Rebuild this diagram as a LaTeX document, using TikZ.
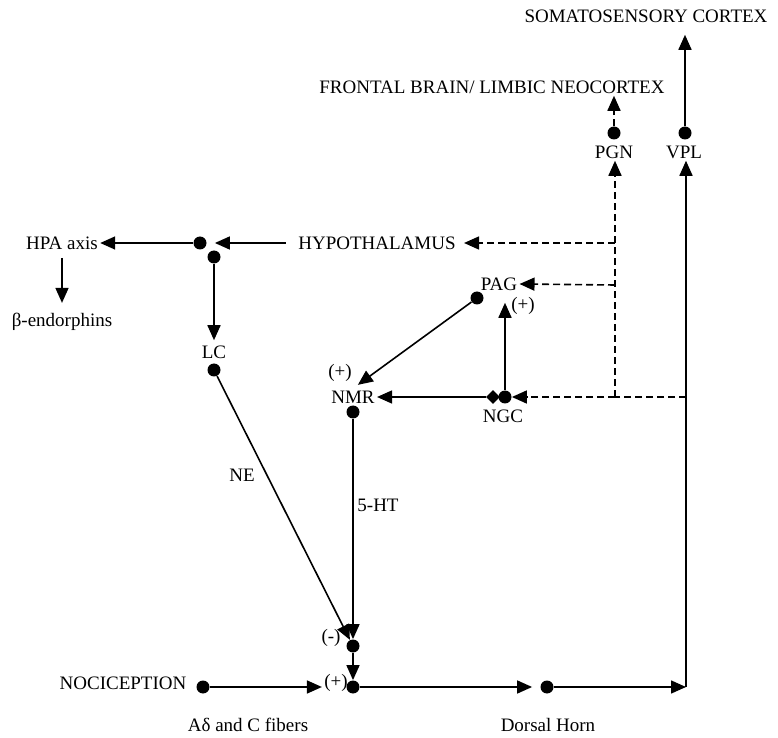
\documentclass[tikz,border=0pt]{standalone}
\usepackage{fontspec}
\setmainfont{Liberation Serif}
\usepackage{tikz}
\usetikzlibrary{arrows.meta,shapes.geometric}
\tikzset{
  txt/.style={inner sep=1pt},
  dot/.style={circle,fill,inner sep=0pt,minimum size=6.5pt},
  dia/.style={diamond,fill,inner sep=0pt,minimum size=7pt},
  arr/.style={-{Triangle[length=7.5pt,width=6.5pt]}},
  dsh/.style={dash pattern=on 3.5pt off 2pt}
}
\newcommand{\drawline}{\draw[line width=0.8pt]}
\begin{document}
\begin{tikzpicture}[x=0.5pt,y=-0.5pt,font=\fontsize{9.5}{11}\selectfont]
\useasboundingbox (0,0) rectangle (778,738);
\node[txt] (som) at (646,16) {SOMATOSENSORY CORTEX};
\node[txt] (front) at (492,87) {FRONTAL BRAIN/ LIMBIC NEOCORTEX};
\node[dot] (pgndot) at (614,133) {};
\node[dot] (vpldot) at (685,133) {};
\node[txt] (pgn) at (614,152) {PGN};
\node[txt] (vpl) at (684,152) {VPL};
\node[txt] (hypo) at (377,243) {HYPOTHALAMUS};
\node[dot] (hdota) at (200,243) {};
\node[dot] (hdotb) at (214,257) {};
\node[txt] (hpa) at (62,243) {HPA axis};
\node[txt] (beta) at (62,322) {β-endorphins};
\node[txt] (lc) at (214,352) {LC};
\node[dot] (lcdot) at (214,370) {};
\node[txt] (pag) at (499,284) {PAG};
\node[dot] (pagdot) at (477,298) {};
\node[txt] (nmrplus) at (340,373) {(+)};
\node[txt] (nmr) at (353,397) {NMR};
\node[dot] (nmrdot) at (353,412) {};
\node[dia] (ngcdia) at (493,397) {};
\node[dot] (ngcdot) at (505,397) {};
\node[txt] (ngc) at (503,416) {NGC};
\node[txt] (ngcplus) at (523,306) {(+)};
\node[txt] (ne) at (242,475) {NE};
\node[txt] (ht) at (378,505) {5-HT};
\node[dot] (mdot) at (353,646) {};
\node[txt] (minus) at (331,638) {(-)};
\node[txt] (noci) at (123,683) {NOCICEPTION};
\node[dot] (nocidot) at (203,687) {};
\node[txt] (bplus) at (336,683) {(+)};
\node[dot] (bdot) at (353,687) {};
\node[dot] (dhdot) at (547,687) {};
\node[txt] (fib) at (248,725) {Aδ and C fibers};
\node[txt] (dh) at (548,725) {Dorsal Horn};
\coordinate (ja) at (615,243);
\coordinate (jb) at (615,285);
\coordinate (jc) at (615,397);
\coordinate (jd) at (686,397);
\coordinate (ke) at (686,687);
\drawline[arr,shorten >=5pt] (vpldot) -- (vpldot |- som.south);
\drawline[arr,dsh] (pgndot) -- (pgndot |- front.south);
\drawline[arr,dsh] (jc) -- (jc |- pgn.south);
\drawline[arr] (ke) -- (ke |- vpl.south);
\drawline[dsh] (jd) -- (jc);
\drawline[arr,dsh,shorten >=3pt] (ja) -- (hypo.east);
\drawline[arr,dsh] (jb) -- (pag.east);
\drawline[arr,dsh] (jc) -- (ngcdot);
\drawline[arr,shorten <=5pt,shorten >=4pt] (hypo.west) -- (hdota);
\drawline[arr] (hdota) -- (hpa.east);
\drawline[arr,shorten <=3pt,shorten >=4pt] (hpa.south) -- (beta.north);
\drawline[arr,shorten >=1.5pt] (hdotb) -- (lc.north);
\drawline[arr,shorten >=3pt] (pagdot) -- (nmr.north);
\drawline[arr] (ngcdia) -- (nmr.east);
\drawline[arr,shorten >=5pt] (ngcdot) -- (ngcdot |- pag.south);
\drawline[arr] (lcdot) -- (mdot);
\drawline[arr] (nmrdot) -- (mdot);
\drawline[arr] (mdot) -- (bdot);
\drawline[arr] (nocidot) -- (nocidot -| bplus.west);
\drawline[arr,shorten >=4pt] (bdot) -- (dhdot);
\drawline[arr] (dhdot) -- (ke);
\end{tikzpicture}
\end{document}
